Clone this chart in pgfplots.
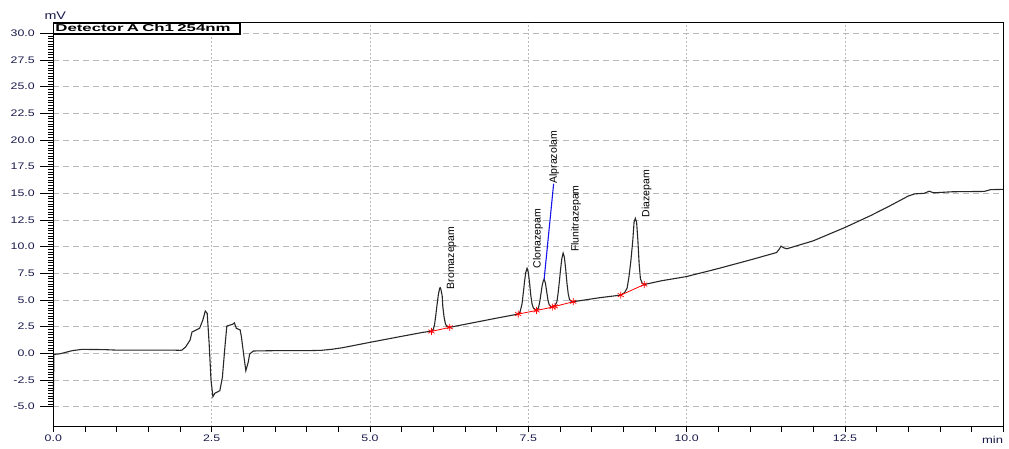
\documentclass[border=0pt]{standalone}
\usepackage{fontspec}
\setmainfont{Liberation Sans}
\newfontfamily\tickfont{Liberation Sans}[FakeStretch=1.3]
\newfontfamily\unitfont{Liberation Sans}[FakeStretch=1.3]
\newfontfamily\titlefont{Liberation Sans Bold}[FakeStretch=1.68]
\usepackage{pgfplots}
\pgfplotsset{compat=1.18}
\definecolor{axtext}{RGB}{25,25,75}
\definecolor{trace}{RGB}{40,40,40}
\definecolor{gridgray}{RGB}{185,185,185}
\definecolor{leader}{RGB}{20,20,235}

\begin{document}
\begin{tikzpicture}
\useasboundingbox (-53.3pt,-21.3pt) rectangle (955.7pt,426.7pt);
\begin{axis}[
  scale only axis, width=950pt, height=404pt,
  xmin=0, xmax=15, ymin=-6.88, ymax=31.0,
  clip=false, axis lines=box,
  axis line style={black, line width=1.5pt},
  tick align=outside, tick pos=left,
  major tick length=13pt, minor tick length=5pt,
  xtick={0,2.5,...,15},
  xticklabels={0.0,2.5,5.0,7.5,10.0,12.5,{}},
  minor xtick={0,0.5,...,15},
  every major x tick/.append style={draw=none},
  ytick={-5,-2.5,...,30},
  minor y tick num=9,
  every tick/.append style={black, line width=0.8pt},
  xmajorgrids, ymajorgrids,
  x grid style={gridgray, line width=0.8pt, dash pattern=on 2pt off 2pt},
  y grid style={gridgray, line width=0.8pt, dash pattern=on 6pt off 4pt},
  /pgf/number format/assume math mode=true,
  yticklabel style={/pgf/number format/fixed, /pgf/number format/fixed zerofill,
    /pgf/number format/precision=1, xshift=-2pt},
  tick label style={font=\tickfont\fontsize{9.5}{11}\selectfont, text=axtext},
  xticklabel style={yshift=8pt},
]
% detector trace
\addplot[trace, line width=1.1pt] coordinates {
 (0,-4.5) (0.01,-0.1) (0.1,-0.05) (0.2,0.1) (0.3,0.25) (0.45,0.37) (0.8,0.35)
 (1.0,0.3) (1.5,0.3) (1.9,0.3) (2.0,0.28)
 (2.03,0.3) (2.09,0.6) (2.16,1.25) (2.19,2.0) (2.31,2.35) (2.36,3.1) (2.40,3.97)
 (2.43,3.75) (2.46,1.0) (2.49,-2.5) (2.52,-4.07) (2.55,-3.75) (2.63,-3.5)
 (2.67,-2.25) (2.71,0.62) (2.74,2.56) (2.83,2.72) (2.86,2.85) (2.89,2.34)
 (2.95,2.2) (2.97,1.56) (3.01,-0.31) (3.04,-1.63) (3.08,-0.78) (3.10,-0.06)
 (3.16,0.22) (3.5,0.25) (4.0,0.25) (4.23,0.28) (4.4,0.38) (4.57,0.53)
 (5.0,1.03) (5.47,1.56) (5.84,1.97) (5.97,2.08)
 (6.00,2.25) (6.02,2.7) (6.04,3.6) (6.06,4.6) (6.08,5.5) (6.10,6.1) (6.11,6.15)
 (6.12,6.0) (6.14,5.4) (6.15,4.4) (6.17,3.4) (6.19,2.8) (6.21,2.55) (6.26,2.44)
 (7.0,3.3) (7.34,3.68)
 (7.37,3.9) (7.40,4.6) (7.42,5.6) (7.44,6.7) (7.46,7.6) (7.48,7.97) (7.50,7.6)
 (7.52,6.6) (7.54,5.4) (7.56,4.6) (7.58,4.25) (7.61,4.1) (7.63,4.08)
 (7.66,4.25) (7.68,4.8) (7.70,5.6) (7.72,6.4) (7.74,6.85) (7.75,6.94) (7.77,6.6)
 (7.79,5.8) (7.81,5.0) (7.83,4.55) (7.86,4.35) (7.89,4.37)
 (7.92,4.45) (7.95,4.8) (7.97,5.6) (7.99,6.7) (8.01,7.9) (8.03,8.9) (8.05,9.4)
 (8.07,9.0) (8.09,7.9) (8.11,6.6) (8.13,5.6) (8.15,5.05) (8.18,4.85) (8.21,4.84)
 (8.62,5.21) (8.96,5.46)
 (9.02,5.7) (9.06,6.1) (9.09,7.2) (9.12,8.7) (9.15,10.6) (9.17,12.3) (9.19,12.65)
 (9.21,12.3) (9.23,10.6) (9.25,8.4) (9.27,7.0) (9.30,6.55) (9.33,6.45)
 (9.6,6.8) (10.0,7.2) (10.5,7.95) (11.0,8.75) (11.42,9.45) (11.46,9.75)
 (11.49,10.05) (11.53,9.9) (11.58,9.8) (12.0,10.55) (12.5,11.8) (12.9,12.9)
 (13.2,13.8) (13.5,14.75) (13.6,14.95) (13.75,15.0) (13.83,15.2) (13.9,15.05)
 (14.2,15.15) (14.7,15.18) (14.8,15.35) (15.0,15.37)
};
% integration baselines
\addplot[red, line width=0.8pt, mark=asterisk, mark size=3.5pt,
  mark options={line width=0.7pt}] coordinates {(5.97,2.05) (6.26,2.44)};
\addplot[red, line width=0.8pt, mark=asterisk, mark size=3.5pt,
  mark options={line width=0.7pt}] coordinates {(7.34,3.68) (7.63,4.02) (7.88,4.33)};
\addplot[red, line width=0.8pt, mark=asterisk, mark size=3.5pt,
  mark options={line width=0.7pt}] coordinates {(7.92,4.40) (8.21,4.84)};
\addplot[red, line width=0.8pt, mark=asterisk, mark size=3.5pt,
  mark options={line width=0.7pt}] coordinates {(8.96,5.46) (9.33,6.45)};
% leader line to the Alprazolam label
\addplot[leader, line width=1.1pt] coordinates {(7.75,6.94) (7.90,15.9)};

% peak names
\begin{scope}[every node/.style={rotate=90, anchor=west, inner sep=0pt,
    font=\fontsize{10.5}{12}\selectfont, text=black}]
\node at (axis cs:6.29,6.0) {Bromazepam};
\node at (axis cs:7.65,7.97) {Clonazepam};
\node at (axis cs:7.91,15.9) {Alprazolam};
\node at (axis cs:8.25,9.5) {Flunitrazepam};
\node at (axis cs:9.37,12.75) {Diazepam};
\end{scope}

% plot frame
\draw[black, line width=1.5pt] (rel axis cs:0,0) rectangle (rel axis cs:1,1);

% channel caption and axis units
\node[draw=black, line width=1.2pt, fill=white, anchor=north west,
  inner xsep=1.5pt, inner ysep=0.6pt, text width=183pt, align=left,
  text height=7.5pt, text depth=2pt,
  font=\titlefont\fontsize{10}{12}\selectfont]
  at (rel axis cs:0,1) {Detector A Ch1 254nm};
\node[anchor=base, text=axtext, inner sep=0pt,
  font=\unitfont\fontsize{11}{12}\selectfont]
  at ([xshift=2pt, yshift=3pt]rel axis cs:0,1) {mV};
\node[anchor=north east, text=axtext, inner sep=0pt,
  font=\unitfont\fontsize{10}{12}\selectfont]
  at ([yshift=-9pt]rel axis cs:1,0) {min};
\end{axis}
\end{tikzpicture}
\end{document}
